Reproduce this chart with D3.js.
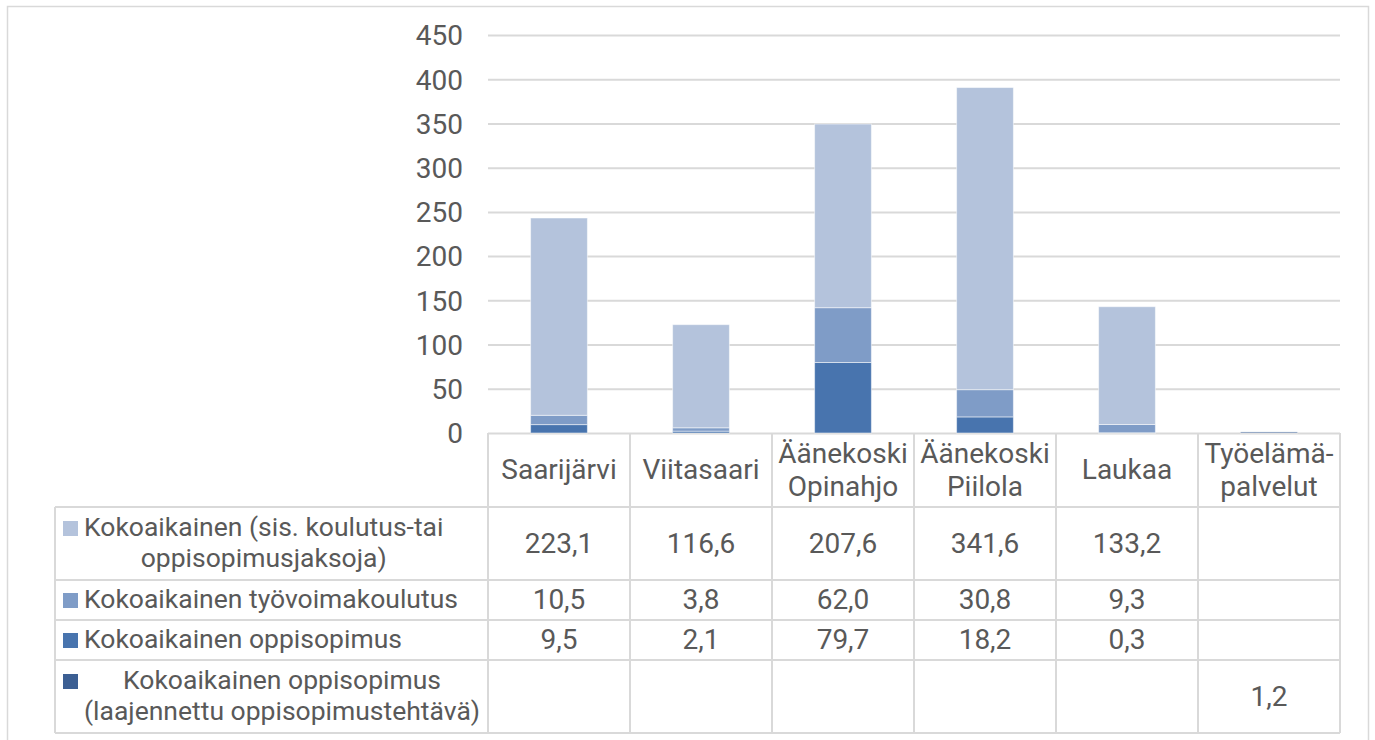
<html lang="fi">
  <head>
    <meta charset="utf-8">
    <title>Kokoaikaiset opiskelijat</title>
    <script src="https://d3js.org/d3.v7.min.js"></script>
    <style>
      body { margin: 0; background: #fff; }
      text { font-family: Roboto, "Liberation Sans", sans-serif; fill: #595959; }
    </style>
  </head>
  <body>
    <script type="text/javascript">
      var w = 1375;
      var h = 740;

      var categories = ["Saarijärvi", "Viitasaari", "Äänekoski Opinahjo", "Äänekoski Piilola", "Laukaa", "Työelämäpalvelut"];
      var categoryLabels = [["Saarijärvi"], ["Viitasaari"], ["Äänekoski", "Opinahjo"], ["Äänekoski", "Piilola"], ["Laukaa"], ["Työelämä-", "palvelut"]];
      var kokoaikainen = [223.1, 116.6, 207.6, 341.6, 133.2, null];
      var tyovoima = [10.5, 3.8, 62.0, 30.8, 9.3, null];
      var oppisopimus = [9.5, 2.1, 79.7, 18.2, 0.3, null];
      var laajennettu = [null, null, null, null, null, 1.2];
      var seriesKeys = ["kokoaikainen", "tyovoima", "oppisopimus", "laajennettu"];
      var seriesLabels = [["Kokoaikainen (sis. koulutus-tai", "oppisopimusjaksoja)"],
                          ["Kokoaikainen työvoimakoulutus"],
                          ["Kokoaikainen oppisopimus"],
                          ["Kokoaikainen oppisopimus", "(laajennettu oppisopimustehtävä)"]];
      var yTicks = [0, 50, 100, 150, 200, 250, 300, 350, 400, 450];

      var colors = {kokoaikainen: "#b4c3dc", tyovoima: "#7f9cc7", oppisopimus: "#4874ae", laajennettu: "#3c5f93"};
      var gridColor = "#d9d9d9";

      var seriesValues = {kokoaikainen: kokoaikainen, tyovoima: tyovoima, oppisopimus: oppisopimus, laajennettu: laajennettu};
      var rows = categories.map(function(c, i) {
        var r = {cat: c};
        seriesKeys.forEach(function(k) { r[k] = seriesValues[k][i] || 0; });
        return r;
      });

      // layout
      var plotLeft = 488, plotRight = 1340, plotTop = 35, plotBottom = 433;
      var tableLeft = 55;
      var headerBottom = 507;
      var rowEdges = [507, 580, 620, 660, 733];
      var legendFont = 26.5, legendGap = 31;

      var finnish = d3.formatLocale({decimal: ",", thousands: "\u00a0", grouping: [3], currency: ["", " €"]});
      var fmt = finnish.format(".1f");

      var xScale = d3.scaleBand().domain(categories).range([plotLeft, plotRight]).padding(0);
      var yScale = d3.scaleLinear().domain([0, 450]).range([plotBottom, plotTop]);

      var svg = d3.select("body").append("svg")
          .attr("width", w)
          .attr("height", h);

      // outer chart frame
      svg.append("rect")
          .attr("x", 7.5).attr("y", 6.5)
          .attr("width", 1361).attr("height", 760)
          .attr("fill", "none")
          .attr("stroke", gridColor)
          .attr("stroke-width", 1.5);

      // gridlines
      var grid = svg.append("g")
          .attr("transform", "translate(" + plotLeft + ",0)")
          .call(d3.axisLeft(yScale).tickValues(yTicks).tickSize(-(plotRight - plotLeft)).tickFormat(""));
      grid.select(".domain").remove();
      grid.selectAll("line").attr("stroke", gridColor).attr("stroke-width", 2);

      // y axis labels
      var yAxis = svg.append("g")
          .attr("transform", "translate(" + plotLeft + ",0)")
          .call(d3.axisLeft(yScale).tickValues(yTicks).tickSize(0).tickPadding(25));
      yAxis.select(".domain").remove();
      yAxis.selectAll("text")
          .attr("font-size", 28)
          .attr("font-family", "Roboto, 'Liberation Sans', sans-serif")
          .attr("fill", "#595959")
          .attr("dy", "0.35em");

      // stacked bars
      var stack = d3.stack().keys(["laajennettu", "oppisopimus", "tyovoima", "kokoaikainen"]);
      var bw = xScale.bandwidth();
      svg.append("g").selectAll("g")
          .data(stack(rows))
          .enter().append("g")
          .attr("fill", function(d) { return colors[d.key]; })
          .selectAll("rect")
          .data(function(d) { return d.filter(function(p) { return p[1] > p[0]; }); })
          .enter().append("rect")
          .attr("x", function(d) { return xScale(d.data.cat) + bw * 0.3; })
          .attr("width", bw * 0.4)
          .attr("y", function(d) { return yScale(d[1]); })
          .attr("height", function(d) { return yScale(d[0]) - yScale(d[1]); })
          .attr("stroke", "#fff")
          .attr("stroke-opacity", 0.5)
          .attr("stroke-width", 1);

      // data table lines
      var table = svg.append("g").attr("stroke", gridColor).attr("stroke-width", 2);
      rowEdges.forEach(function(yy) {
        table.append("line").attr("x1", tableLeft).attr("x2", plotRight).attr("y1", yy).attr("y2", yy);
      });
      table.append("line").attr("x1", tableLeft).attr("x2", tableLeft)
          .attr("y1", headerBottom).attr("y2", rowEdges[rowEdges.length - 1]);
      categories.concat([null]).forEach(function(c) {
        var xx = c === null ? plotRight : xScale(c);
        table.append("line").attr("x1", xx).attr("x2", xx)
            .attr("y1", plotBottom).attr("y2", rowEdges[rowEdges.length - 1]);
      });

      // header labels
      var headerMid = (plotBottom + headerBottom) / 2;
      categories.forEach(function(c, i) {
        var lines = categoryLabels[i];
        var t = svg.append("text")
            .attr("text-anchor", "middle")
            .attr("font-size", 28);
        lines.forEach(function(l, j) {
          t.append("tspan")
              .attr("x", xScale(c) + bw / 2)
              .attr("y", headerMid + 9 + (j - (lines.length - 1) / 2) * 33)
              .text(l);
        });
      });

      // series rows: legend key, label, values
      seriesKeys.forEach(function(k, si) {
        var top = rowEdges[si], bottom = rowEdges[si + 1];
        var mid = (top + bottom) / 2;
        var lines = seriesLabels[si];
        var firstBase = mid + 8 - (lines.length - 1) * legendGap / 2;

        svg.append("rect")
            .attr("x", 63).attr("y", firstBase - 15)
            .attr("width", 15).attr("height", 15)
            .attr("fill", colors[k]);

        var t = svg.append("text").attr("font-size", legendFont);
        var spans = lines.map(function(l, j) {
          return t.append("tspan").attr("y", firstBase + j * legendGap).text(l);
        });
        if (lines.length > 1) {
          var maxW = d3.max(spans, function(s) { return s.node().getComputedTextLength(); });
          t.attr("text-anchor", "middle");
          spans.forEach(function(s) { s.attr("x", 84 + maxW / 2); });
        } else {
          spans[0].attr("x", 84);
        }

        seriesValues[k].forEach(function(v, ci) {
          if (v == null) return;
          svg.append("text")
              .attr("text-anchor", "middle")
              .attr("font-size", 28)
              .attr("x", xScale(categories[ci]) + bw / 2)
              .attr("y", mid + 9)
              .text(fmt(v));
        });
      });
    </script>
  </body>
</html>
